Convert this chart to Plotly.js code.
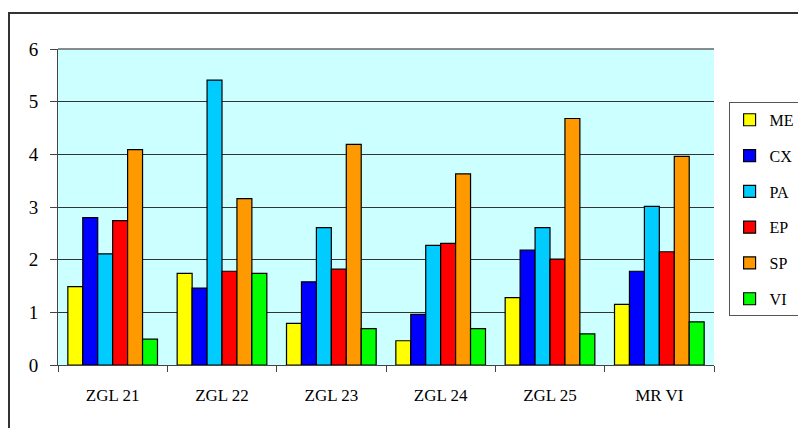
<!DOCTYPE html>
<html><head><meta charset="utf-8">
<script src="https://cdn.plot.ly/plotly-3.0.1.min.js"></script>
<style>
html,body{margin:0;padding:0;background:#fff;overflow:hidden;}
#frame{position:absolute;left:8px;top:12px;width:900px;height:500px;border-left:2px solid #333;border-top:2px solid #333;pointer-events:none;z-index:5;}
#chart{position:absolute;left:0;top:0;width:798px;height:428px;}
</style></head>
<body>
<div id="chart"></div>
<div id="frame"></div>
<script>
const categories = ["ZGL 21","ZGL 22","ZGL 23","ZGL 24","ZGL 25","MR VI"];
const seriesNames = ["ME","CX","PA","EP","SP","VI"];
const ME = [1.49, 1.74, 0.79, 0.46, 1.28, 1.15];
const CX = [2.80, 1.46, 1.58, 0.96, 2.18, 1.78];
const PA = [2.11, 5.41, 2.61, 2.27, 2.61, 3.01];
const EP = [2.74, 1.78, 1.82, 2.31, 2.01, 2.15];
const SP = [4.09, 3.16, 4.19, 3.63, 4.68, 3.96];
const VI = [0.49, 1.74, 0.69, 0.69, 0.59, 0.82];
const seriesValues = [ME, CX, PA, EP, SP, VI];
const colors = ["#FFFF00","#0000FF","#00CCFF","#FF0000","#FF9900","#00FF00"];

const serifFont = 'Liberation Serif, Times New Roman, serif';

const traces = seriesNames.map((n,i)=>({
  type:'bar', name:n, x:categories, y:seriesValues[i],
  legendgroup:n,
  marker:{color:colors[i], line:{color:'#000', width:1.2}}
}));

const layout = {
  width:798, height:428,
  margin:{l:58, r:84, t:49, b:63},
  paper_bgcolor:'#fff', plot_bgcolor:'#CCFFFF',
  barmode:'group', bargap:0.18, bargroupgap:0,
  font:{family:serifFont, color:'#000', size:16},
  xaxis:{
    type:'category', tickson:'boundaries', ticks:'outside', ticklen:6, tickcolor:'#444',
    showline:true, linecolor:'#444', linewidth:1, showgrid:false,
    tickfont:{family:serifFont, size:17}, ticklabelstandoff:15, range:[-0.5,5.5]
  },
  yaxis:{
    range:[0,6], dtick:1, ticks:'outside', ticklen:7, tickcolor:'#444',
    showline:true, linecolor:'#444', gridcolor:'#333', gridwidth:1,
    tickfont:{family:serifFont, size:19}, ticklabelstandoff:8, zeroline:false
  },
  shapes:[{type:'line', xref:'paper', yref:'paper', x0:0, x1:1, y0:1, y1:1, line:{color:'#666', width:1.5}}],
  legend:{
    xref:'container', yref:'container',
    x:0.913, xanchor:'left', y:0.762, yanchor:'top',
    bordercolor:'#555', borderwidth:1, bgcolor:'#fff',
    font:{family:serifFont, size:16}, tracegroupgap:12, traceorder:'grouped',
    itemwidth:30
  },
  showlegend:true
};
Plotly.newPlot('chart', traces, layout, {displayModeBar:false, staticPlot:true});
</script>
</body></html>
